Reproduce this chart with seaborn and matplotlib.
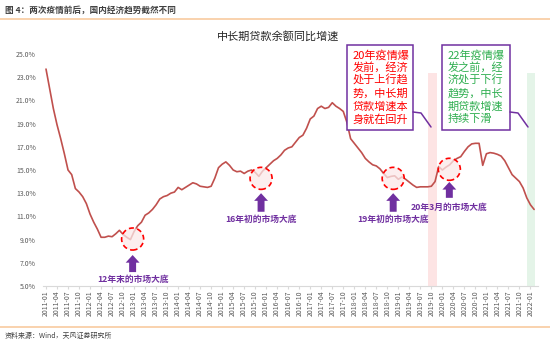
import pandas as pd
import seaborn as sns
import matplotlib.pyplot as plt
from matplotlib.patches import Ellipse, Rectangle
from matplotlib.lines import Line2D

# Monthly year-on-year growth of medium/long-term loan balances (%)
months = pd.period_range("2011-01", "2022-02", freq="M").strftime("%Y-%m").tolist()
loan_growth = [
    23.7, 22.0, 20.3, 18.9, 17.7, 16.4, 15.0, 14.6, 13.4, 13.1, 12.7, 12.1,
    11.2, 10.5, 9.9, 9.2, 9.2, 9.3, 9.25, 9.5, 9.8, 9.45, 9.2, 9.0,
    9.7, 10.2, 10.5, 11.1, 11.3, 11.6, 12.0, 12.5, 12.7, 12.8, 13.0, 13.1,
    13.5, 13.3, 13.5, 13.7, 13.9, 13.8, 13.6, 13.55, 13.5, 13.6, 14.3, 15.2,
    15.5, 15.7, 15.4, 15.0, 14.85, 14.9, 14.7, 14.9, 15.0, 14.8, 14.45, 14.9,
    15.2, 15.5, 15.8, 16.0, 16.3, 16.7, 16.9, 17.0, 17.4, 17.8, 18.0, 18.6,
    19.4, 19.65, 20.3, 20.5, 20.3, 20.4, 20.8, 20.5, 20.3, 20.05, 19.1, 17.7,
    17.3, 16.9, 16.5, 16.0, 15.7, 15.45, 15.35, 15.1, 14.7, 14.35, 14.45, 14.5,
    14.2, 14.4, 14.2, 13.95, 13.7, 13.5, 13.55, 13.55, 13.55, 13.6, 14.0, 15.3,
    15.0, 15.25, 15.45, 15.8, 16.0, 16.15, 16.6, 17.0, 17.25, 17.3, 17.3, 15.4,
    16.4, 16.5, 16.45, 16.35, 16.2, 15.8, 15.2, 14.6, 14.3, 14.0, 13.45, 12.6,
    12.0, 11.6,
]

# Market-bottom markers: (month index, growth level at circle centre, label)
bottom_pos = [23.6, 58.6, 94.6, 109.9]
bottom_level = [9.05, 14.28, 14.28, 15.06]
bottom_labels = ["12年末的市场大底", "16年初的市场大底", "19年初的市场大底", "20年3月的市场大底"]
arrow_top = [7.67, 13.0, 13.0, 13.97]
arrow_bottom = [6.2, 11.4, 11.4, 12.6]
label_level = [5.6, 10.7, 10.7, 11.8]

# Shaded periods before each outbreak (month index range)
band_spans = [(104.1, 106.6), (131.1, 133.3)]
band_colors = ["#FDE4E4", "#E4F4E8"]

note_left = ["20年疫情爆", "发前，经济", "处于上行趋", "势，中长期", "贷款增速本", "身就在回升"]
note_right = ["22年疫情爆", "发之前，经", "济处于下行", "趋势，中长", "期贷款增速", "持续下滑"]

sns.set_style("white")
plt.rcParams["font.family"] = ["Noto Sans CJK SC", "DejaVu Sans"]
plt.rcParams["axes.unicode_minus"] = False

W, H = 550, 347
fig = plt.figure(figsize=(W / 100, H / 100), dpi=100)


def fx(x):
    return x / W


def fy(y):
    return 1 - y / H


ax = fig.add_axes([fx(43), fy(286), fx(538) - fx(43), fy(54) - fy(286)])

df = pd.DataFrame({"idx": range(len(loan_growth)), "growth": loan_growth})

for (a, b), c in zip(band_spans, band_colors):
    ax.fill_between([a, b], 5, 23.4, color=c, lw=0, zorder=0)

sns.lineplot(data=df, x="idx", y="growth", color="#C0504D", lw=1.2, ax=ax, zorder=2)

purple = "#7030A0"
for xc, yc, lab, at, ab, ll in zip(bottom_pos, bottom_level, bottom_labels,
                                  arrow_top, arrow_bottom, label_level):
    ax.add_patch(Ellipse((xc, yc), 6.0, 1.9, facecolor="#FBE9E9", alpha=0.75,
                         edgecolor="none", zorder=3))
    ax.add_patch(Ellipse((xc, yc), 6.0, 1.9, facecolor="none", edgecolor="#FF0000",
                         lw=1.2, ls=(0, (3, 2)), zorder=4))
    ax.annotate("", xy=(xc, at), xytext=(xc, ab),
                arrowprops=dict(arrowstyle="simple,head_width=1.0,head_length=0.55,tail_width=0.5",
                                color=purple, lw=0, shrinkA=0, shrinkB=0), zorder=4)
    ax.text(xc, ll, lab, color=purple, fontsize=6.3, fontweight="bold",
            ha="center", va="center", zorder=5)

ax.set_xlim(-0.82, 134.06)
ax.set_ylim(5, 25)
ax.set_yticks(range(5, 26, 2))
ax.set_yticklabels([f"{v:.1f}%" for v in range(5, 26, 2)])
ax.set_xticks(range(0, len(months), 3))
ax.set_xticklabels(months[::3], rotation=90)
ax.set_xlabel("")
ax.set_ylabel("")
ax.tick_params(axis="y", labelsize=5, colors="#595959", length=0, pad=5)
ax.tick_params(axis="x", labelsize=5, colors="#595959", length=2, pad=1,
               color="#D9D9D9", bottom=True)
for s in ["left", "right", "top"]:
    ax.spines[s].set_visible(False)
ax.spines["bottom"].set_color("#D9D9D9")
ax.spines["bottom"].set_linewidth(0.8)

# Title and page header/footer
fig.text(fx(278), fy(36), "中长期贷款余额同比增速", fontsize=8, color="#262626",
         ha="center", va="center")
fig.text(fx(5), fy(10), "图 4：两次疫情前后，国内经济趋势截然不同", fontsize=6.2,
         color="#404040", ha="left", va="center", fontweight="bold")
fig.add_artist(Line2D([0, 1], [fy(19), fy(19)], color="#F8CBA0", lw=1.2))
fig.add_artist(Line2D([0, 1], [fy(327), fy(327)], color="#F8CBA0", lw=1.2))
fig.text(fx(5), fy(336), "资料来源：Wind，天风证券研究所", fontsize=5,
         color="#404040", ha="left", va="center")

# Commentary boxes with leader lines
for (x0, x1), lines, col in [((347, 413), note_left, "#FF0000"),
                             ((442, 510), note_right, "#2EAE4F")]:
    fig.add_artist(Rectangle((fx(x0), fy(130)), fx(x1) - fx(x0), fy(45) - fy(130),
                             facecolor="white", edgecolor=purple, lw=1.1,
                             transform=fig.transFigure, zorder=6))
    for k, line in enumerate(lines):
        fig.text(fx(x0 + 5.5), fy(55 + 12.8 * k), line, fontsize=8.0, color=col,
                 ha="left", va="center", zorder=7)
    fig.add_artist(Line2D([fx(x1), fx(x1 + 8), fx(x1 + 18)],
                          [fy(112), fy(113), fy(127)], color=purple, lw=1.1, zorder=6))

fig.savefig("out.png", dpi=100)
